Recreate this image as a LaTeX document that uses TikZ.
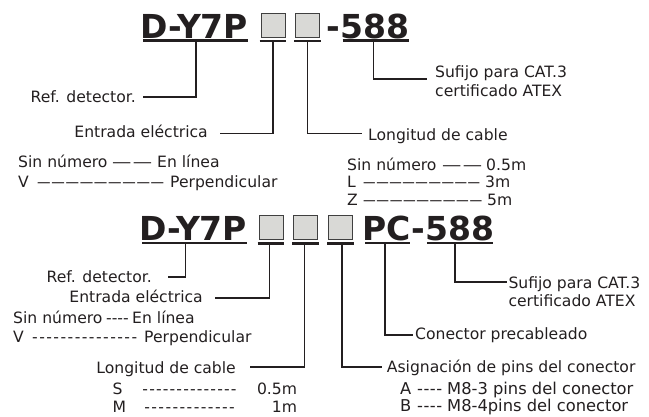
\documentclass[tikz,border=0pt]{standalone}
\usepackage{fontspec}
\setmainfont{DejaVu Sans}
\usetikzlibrary{calc}
\definecolor{ink}{HTML}{231F20}
\definecolor{boxfill}{HTML}{D9D9D6}
\definecolor{boxline}{HTML}{404040}
% run of n scaled em dashes spread over a given width
\newcommand\drun[3]{\makebox[#1][s]{\foreach \i in {1,...,#2}{\ifnum\i>1 \hfill\fi\resizebox{#3}{\height}{—}}}}
% run of n hyphens spread over a given width
\newcommand\hrun[2]{\makebox[#1][s]{\foreach \i in {1,...,#2}{\ifnum\i>1 \hfill\fi-}}}
\begin{document}
\begin{tikzpicture}[x=1pt,y=-1pt,
  lab/.style={font=\fontsize{15.6}{18.7}\selectfont, text=ink, inner sep=0pt},
  labw/.style={font=\fontsize{16.3}{19}\selectfont, text=ink, inner sep=0pt},
  ttl/.style={font=\fontsize{33}{36}\selectfont\bfseries, text=ink, inner sep=0pt, anchor=base west},
  sq/.style={draw=boxline, fill=boxfill, line width=0.9pt, minimum width=24pt, minimum height=24pt, inner sep=0pt},
  ul/.style={draw=ink, line width=2.2pt},
  conn/.style={draw=ink, line width=1.6pt}]
\path[use as bounding box] (0,0) rectangle (649,416);
\fill[white] (0,0) rectangle (649,416);

% ---------------- top code ----------------
\node[ttl] (t1) at (140,38) {D-Y7P};
\node[sq] (bx1) at (273,25) {};
\node[sq] (bx2) at (307.5,25) {};
\node[ttl] (t2) at (326.5,38) {-};
\node[ttl] (t3) at (t2.base east) {588};

\draw[ul] ($(t1.base west)+(3,2.5)$) -- ($(t1.base east)+(0,2.5)$);
\draw[ul] ($(bx1.south west)+(-1,3.5)$) -- ($(bx1.south east)+(1,3.5)$);
\draw[ul] ($(bx2.south west)+(-1,3.5)$) -- ($(bx2.south east)+(1,3.5)$);
\draw[ul] ($(t3.base west)+(2,2.5)$) -- ($(t3.base east)+(-1,2.5)$);

\node[lab, anchor=base east] (ref1) at (136,102) {Ref. detector.};
\node[lab, anchor=base east] (ent1) at (208,137) {Entrada eléctrica};
\node[lab, anchor=base west] (lon1) at (368,140.5) {Longitud de cable};
\node[lab, anchor=base west] (suf1a) at (435,77.5) {Sufijo para CAT.3};
\node[lab, anchor=base west] (suf1b) at (435,96) {certificado ATEX};

\draw[conn] ($(t1.base)+(1.9,2.5)$) |- ($(ref1.base east)+(7,-5.3)$);
\draw[conn] ($(bx1.south)+(0,3.5)$) |- ($(ent1.base east)+(12,-3.7)$);
\draw[conn] ($(bx2.south)+(0,3.5)$) |- ($(lon1.base west)+(-6,-7.2)$);
\draw[conn] ($(t3.base)+(-1.6,2.5)$) |- ($(suf1a.base west)+(-8,1.5)$);

\node[lab, anchor=base west] (tl1) at (18,167.5) {\makebox[94pt][l]{Sin número}\drun{40pt}{2}{19.3pt}\kern5pt En línea};
\node[lab, anchor=base west] (tl2) at (18,187) {\makebox[19pt][l]{V}\drun{127pt}{9}{13.5pt}\kern6pt Perpendicular};
\node[lab, anchor=base west] (tr1) at (347,170) {\makebox[95pt][l]{Sin número}\drun{40pt}{2}{19.3pt}\kern4pt 0.5m};
\node[lab, anchor=base west] (tr2) at (347,187.7) {\makebox[16pt][l]{L}\drun{117pt}{9}{12.5pt}\kern5pt 3m};
\node[lab, anchor=base west] (tr3) at (347,205.3) {\makebox[16pt][l]{Z}\drun{119pt}{9}{12.7pt}\kern5pt 5m};

% ---------------- bottom code ----------------
\node[ttl] (b1) at (139,240) {D-Y7P};
\node[sq] (c1) at (271,227.5) {};
\node[sq] (c2) at (305.5,227.5) {};
\node[sq] (c3) at (340.5,227.5) {};
\node[ttl] (b2) at (362,240) {PC};
\node[ttl] (b3) at (b2.base east) {-};
\node[ttl] (b4) at (b3.base east) {588};

\draw[ul] ($(b1.base west)+(3,3)$) -- ($(b1.base east)+(0,3)$);
\draw[ul] ($(c1.south west)+(-1,3.5)$) -- ($(c1.south east)+(1,3.5)$);
\draw[ul] ($(c2.south west)+(-1,3.5)$) -- ($(c2.south east)+(1,3.5)$);
\draw[ul] ($(c3.south west)+(-1,3.5)$) -- ($(c3.south east)+(1,3.5)$);
\draw[ul] ($(b2.base west)+(3,3)$) -- ($(b2.base east)+(-1,3)$);
\draw[ul] ($(b4.base west)+(2,3)$) -- ($(b4.base east)+(-1,3)$);

\node[lab, anchor=base east] (ref2) at (152,282) {Ref. detector.};
\node[lab, anchor=base east] (ent2) at (203,302.7) {Entrada eléctrica};
\node[lab, anchor=base east] (lon2) at (236,373) {Longitud de cable};
\node[lab, anchor=base west] (asg) at (386.7,372) {Asignación de pins del conector};
\node[lab, anchor=base west] (con) at (415,339.5) {Conector precableado};
\node[lab, anchor=base west] (suf2a) at (508.3,288.3) {Sufijo para CAT.3};
\node[lab, anchor=base west] (suf2b) at (508.3,306.7) {certificado ATEX};

\draw[conn] ($(b1.base)+(-7.5,3)$) |- ($(ref2.base east)+(16,-5)$);
\draw[conn] ($(c1.south)+(-1.7,3.5)$) |- ($(ent2.base east)+(12,-5)$);
\draw[conn] ($(c2.south)+(-1.2,3.5)$) |- ($(lon2.base east)+(14,-6.3)$);
\draw[conn] ($(c3.south)+(1.2,3.5)$) |- ($(asg.base west)+(-5,-5.3)$);
\draw[conn] ($(b2.base)+(-1.2,3)$) |- ($(con.base west)+(-1.7,-4.5)$);
\draw[conn] ($(b4.base)+(-4.5,3)$) |- ($(suf2a.base west)+(-1.6,-6.6)$);

\node[lab, anchor=base west] (bl1) at (13,323.5) {\makebox[93pt][l]{Sin número}\hrun{22.5pt}{4}\kern3.5pt En línea};
\node[lab, anchor=base west] (bl2) at (13,342.5) {\makebox[19pt][l]{V}\hrun{105pt}{15}\kern7pt Perpendicular};
\node[lab, anchor=base west] (bs) at (112.3,394) {\makebox[30pt][l]{S}\hrun{94pt}{14}\makebox[60.5pt][r]{0.5m}};
\node[lab, anchor=base west] (bm) at (112.3,412) {\makebox[31.8pt][l]{M}\hrun{90.5pt}{13}\makebox[62.2pt][r]{1m}};
\node[labw, anchor=base west] (ba) at (400,394) {\makebox[17pt][l]{A}\hrun{25pt}{4}\kern5pt M8-3 pins del conector};
\node[labw, anchor=base west] (bb) at (400,411.7) {\makebox[17pt][l]{B}\hrun{25pt}{4}\kern5pt M8-4pins del conector};
\end{tikzpicture}
\end{document}
